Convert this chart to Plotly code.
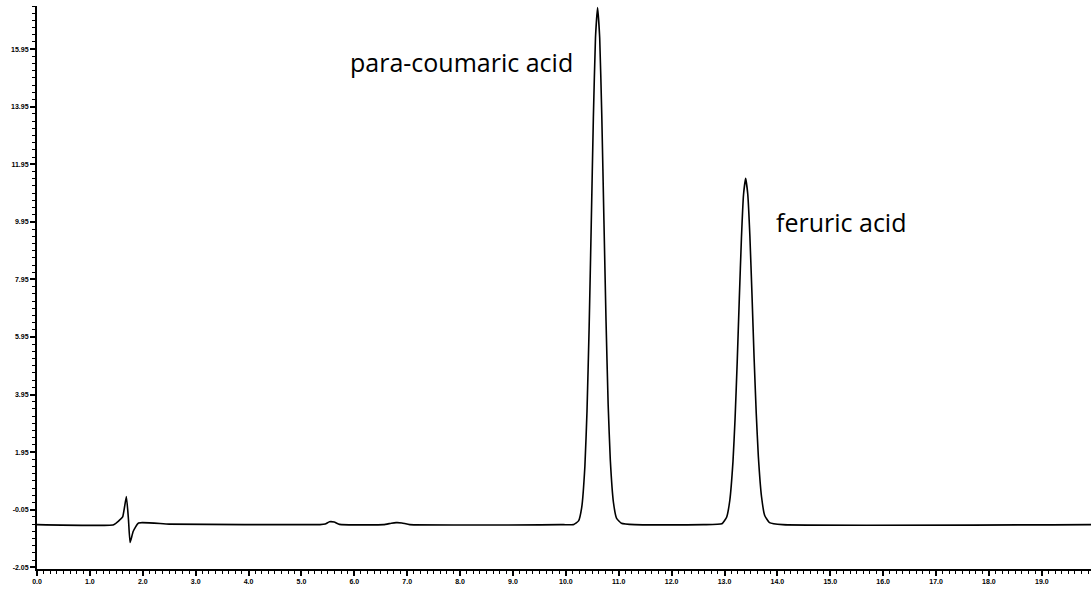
import plotly.graph_objects as go

# Retention time (min) and detector signal
time_min = [0.0, 1.45, 1.55, 1.62, 1.69, 1.73, 1.76, 1.82, 1.92, 2.5,
            5.35, 5.45, 5.53, 5.62, 5.72, 6.55, 6.70, 6.79, 6.90, 7.05,
            9.9, 10.15, 10.24, 10.30, 10.36, 10.40, 10.44, 10.48, 10.52, 10.56,
            10.60, 10.64, 10.68, 10.72, 10.76, 10.80, 10.84, 10.90, 10.96, 11.05,
            11.3, 12.6, 12.95, 13.04, 13.10, 13.16, 13.20, 13.24, 13.28, 13.32,
            13.36, 13.40, 13.44, 13.48, 13.52, 13.56, 13.60, 13.64, 13.70, 13.76,
            13.85, 14.1, 19.93]
signal = [-0.57, -0.57, -0.43, -0.30, 0.41, -0.40, -1.19, -0.80, -0.51, -0.55,
          -0.57, -0.55, -0.47, -0.48, -0.56, -0.57, -0.52, -0.50, -0.51, -0.57,
          -0.57, -0.56, -0.44, 0.03, 1.46, 3.38, 6.26, 9.85, 13.54, 16.34,
          17.40, 16.34, 13.60, 10.00, 6.50, 3.60, 1.70, 0.20, -0.35, -0.52,
          -0.57, -0.57, -0.54, -0.31, 0.27, 1.62, 3.12, 5.07, 7.29, 9.38,
          10.90, 11.46, 10.90, 9.45, 7.40, 5.20, 3.30, 1.80, 0.40, -0.25,
          -0.50, -0.57, -0.57]

peak_names = ["para-coumaric acid", "feruric acid"]
label_x = [8.03, 15.2]
label_y = [15.5, 9.94]

x_tick_vals = [float(v) for v in range(0, 20)]
x_tick_text = [f"{v:.1f}" for v in x_tick_vals]
y_tick_vals = [-2.05 + 2 * k for k in range(10)]
y_tick_text = [f"{v:.2f}" for v in y_tick_vals]

fig = go.Figure()
fig.add_trace(go.Scatter(x=time_min, y=signal, mode="lines",
                         line=dict(color="black", width=1.6, shape="spline", smoothing=0.4),
                         showlegend=False, hoverinfo="skip"))

for name, lx, ly in zip(peak_names, label_x, label_y):
    fig.add_annotation(x=lx, y=ly, text=name, showarrow=False,
                       font=dict(family="Open Sans", size=25, color="black"),
                       xanchor="center", yanchor="middle")

tick_font = dict(family="Liberation Sans", size=7, color="black", weight="bold")
fig.update_xaxes(range=[0, 19.93], showgrid=False, zeroline=False,
                 showline=True, linecolor="black", linewidth=2,
                 ticks="outside", ticklen=5, tickwidth=1.5, tickcolor="black",
                 tickvals=x_tick_vals, ticktext=x_tick_text, tickfont=tick_font,
                 minor=dict(ticks="outside", ticklen=3, tickwidth=1, tickcolor="black",
                            dtick=0.125, tick0=0, showgrid=False))
fig.update_yaxes(range=[-2.11, 17.45], showgrid=False, zeroline=False,
                 showline=True, linecolor="black", linewidth=2,
                 ticks="outside", ticklen=5, tickwidth=1.5, tickcolor="black",
                 tickvals=y_tick_vals, ticktext=y_tick_text, tickfont=tick_font,
                 minor=dict(ticks="outside", ticklen=3, tickwidth=1, tickcolor="black",
                            dtick=0.25, tick0=-2.05, showgrid=False))

fig.update_layout(width=1091, height=592, plot_bgcolor="white", paper_bgcolor="white",
                  margin=dict(l=37, r=0, t=6, b=23))
fig.write_html("out.html")
